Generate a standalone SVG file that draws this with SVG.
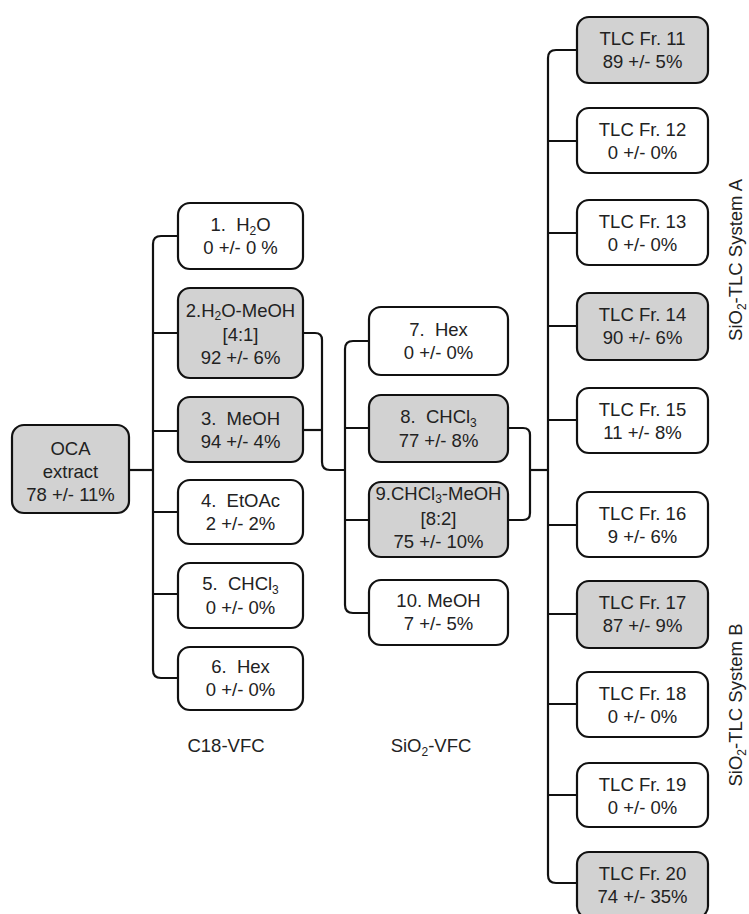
<svg xmlns="http://www.w3.org/2000/svg" width="749" height="914" viewBox="0 0 749 914">
<style>
.box{stroke:#111;stroke-width:2.2;fill:#fff}
.g{fill:#d2d2d2}
.t{font-family:"Liberation Sans",Arial,sans-serif;font-size:18.5px;fill:#222;text-anchor:middle;white-space:pre}
.c{fill:none;stroke:#111;stroke-width:2.2;stroke-linejoin:round}
</style>
<rect width="749" height="914" fill="#fff"/>
<g id="connectors">
<path class="c" d="M129,470 H153"/>
<path class="c" d="M178,236 H161 Q153,236 153,244 V670 Q153,678 161,678 H178"/>
<path class="c" d="M153,333 H178 M153,431 H178 M153,512 H178 M153,594 H178"/>
<path class="c" d="M303,333 H315 Q322,333 322,340 V462 Q322,470 330,470 H345"/>
<path class="c" d="M303,430 H322"/>
<path class="c" d="M369,341 H353 Q345,341 345,349 V605 Q345,613 353,613 H369"/>
<path class="c" d="M345,428 H369 M345,520 H369"/>
<path class="c" d="M508,428 H523 Q530,428 530,435 V513 Q530,520 523,520 H508"/>
<path class="c" d="M530,470 H548"/>
<path class="c" d="M577,50 H556 Q548,50 548,58 V875 Q548,883 556,883 H577"/>
<path class="c" d="M548,141 H577 M548,233 H577 M548,326 H577 M548,420 H577 M548,525 H577 M548,614 H577 M548,704 H577 M548,795 H577"/>
</g>
<g id="n0"><rect class="box g" x="12" y="425" width="117" height="88" rx="12"/><text class="t" x="70.5" y="455">OCA</text><text class="t" x="70.5" y="478">extract</text><text class="t" x="70.5" y="501">78 +/- 11%</text></g>
<g id="n1"><rect class="box" x="178" y="203" width="125" height="66" rx="12"/><text class="t" x="240.5" y="231" xml:space="preserve">1.  H<tspan font-size="12" dy="4">2</tspan><tspan dy="-4">O</tspan></text><text class="t" x="240.5" y="254">0 +/- 0 %</text></g>
<g id="n2"><rect class="box g" x="178" y="288" width="125" height="90" rx="12"/><text class="t" x="240.5" y="317">2.H<tspan font-size="12" dy="3">2</tspan><tspan dy="-3">O-MeOH</tspan></text><text class="t" x="240.5" y="341">[4:1]</text><text class="t" x="240.5" y="364">92 +/- 6%</text></g>
<g id="n3"><rect class="box g" x="178" y="397" width="125" height="65" rx="12"/><text class="t" x="240.5" y="425" xml:space="preserve">3.  MeOH</text><text class="t" x="240.5" y="448">94 +/- 4%</text></g>
<g id="n4"><rect class="box" x="178" y="480" width="125" height="64" rx="12"/><text class="t" x="240.5" y="507" xml:space="preserve">4.  EtOAc</text><text class="t" x="240.5" y="530">2 +/- 2%</text></g>
<g id="n5"><rect class="box" x="178" y="563" width="125" height="65" rx="12"/><text class="t" x="240.5" y="590" xml:space="preserve">5.  CHCl<tspan font-size="12" dy="4">3</tspan></text><text class="t" x="240.5" y="614">0 +/- 0%</text></g>
<g id="n6"><rect class="box" x="178" y="647" width="125" height="63" rx="12"/><text class="t" x="240.5" y="673" xml:space="preserve">6.  Hex</text><text class="t" x="240.5" y="696">0 +/- 0%</text></g>
<g id="n7"><rect class="box" x="369" y="307" width="139" height="68" rx="12"/><text class="t" x="438.5" y="336" xml:space="preserve">7.  Hex</text><text class="t" x="438.5" y="359">0 +/- 0%</text></g>
<g id="n8"><rect class="box g" x="369" y="395" width="139" height="67" rx="12"/><text class="t" x="438.5" y="423" xml:space="preserve">8.  CHCl<tspan font-size="12" dy="4">3</tspan></text><text class="t" x="438.5" y="447">77 +/- 8%</text></g>
<g id="n9"><rect class="box g" x="369" y="482" width="139" height="75" rx="12"/><text class="t" x="438.5" y="500">9.CHCl<tspan font-size="12" dy="3">3</tspan><tspan dy="-3">-MeOH</tspan></text><text class="t" x="438.5" y="525">[8:2]</text><text class="t" x="438.5" y="548">75 +/- 10%</text></g>
<g id="n10"><rect class="box" x="369" y="580" width="139" height="65" rx="12"/><text class="t" x="438.5" y="607">10. MeOH</text><text class="t" x="438.5" y="630">7 +/- 5%</text></g>
<g id="n11"><rect class="box g" x="577" y="17" width="131" height="66" rx="12"/><text class="t" x="642.5" y="45">TLC Fr. 11</text><text class="t" x="642.5" y="68">89 +/- 5%</text></g>
<g id="n12"><rect class="box" x="577" y="108" width="131" height="65" rx="12"/><text class="t" x="642.5" y="136">TLC Fr. 12</text><text class="t" x="642.5" y="159">0 +/- 0%</text></g>
<g id="n13"><rect class="box" x="577" y="200" width="131" height="65" rx="12"/><text class="t" x="642.5" y="228">TLC Fr. 13</text><text class="t" x="642.5" y="251">0 +/- 0%</text></g>
<g id="n14"><rect class="box g" x="577" y="293" width="131" height="67" rx="12"/><text class="t" x="642.5" y="321">TLC Fr. 14</text><text class="t" x="642.5" y="344">90 +/- 6%</text></g>
<g id="n15"><rect class="box" x="577" y="388" width="131" height="65" rx="12"/><text class="t" x="642.5" y="416">TLC Fr. 15</text><text class="t" x="642.5" y="439">11 +/- 8%</text></g>
<g id="n16"><rect class="box" x="577" y="492" width="131" height="65" rx="12"/><text class="t" x="642.5" y="520">TLC Fr. 16</text><text class="t" x="642.5" y="543">9 +/- 6%</text></g>
<g id="n17"><rect class="box g" x="577" y="581" width="131" height="67" rx="12"/><text class="t" x="642.5" y="609">TLC Fr. 17</text><text class="t" x="642.5" y="632">87 +/- 9%</text></g>
<g id="n18"><rect class="box" x="577" y="672" width="131" height="65" rx="12"/><text class="t" x="642.5" y="700">TLC Fr. 18</text><text class="t" x="642.5" y="723">0 +/- 0%</text></g>
<g id="n19"><rect class="box" x="577" y="763" width="131" height="64" rx="12"/><text class="t" x="642.5" y="791">TLC Fr. 19</text><text class="t" x="642.5" y="814">0 +/- 0%</text></g>
<g id="n20"><rect class="box g" x="577" y="852" width="131" height="66" rx="12"/><text class="t" x="642.5" y="880">TLC Fr. 20</text><text class="t" x="642.5" y="903">74 +/- 35%</text></g>
<g id="labels">
<text class="t" x="226" y="752">C18-VFC</text>
<text class="t" x="431" y="752">SiO<tspan font-size="12" dy="4">2</tspan><tspan dy="-4">-VFC</tspan></text>
<text class="t" transform="translate(742,260) rotate(-90)">SiO<tspan font-size="12" dy="4">2</tspan><tspan dy="-4">-TLC System A</tspan></text>
<text class="t" transform="translate(742,705) rotate(-90)">SiO<tspan font-size="12" dy="4">2</tspan><tspan dy="-4">-TLC System B</tspan></text>
</g>
</svg>
